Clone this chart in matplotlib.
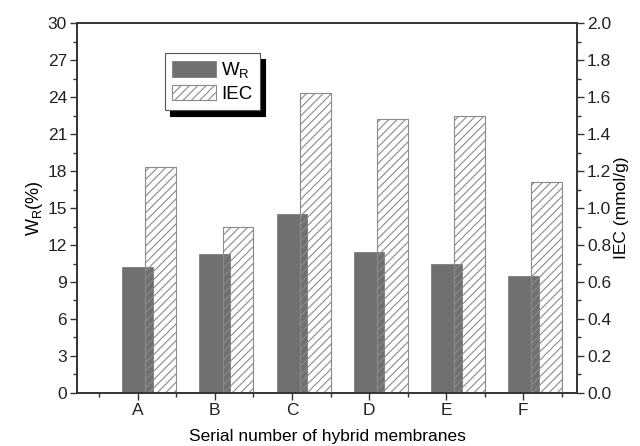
import matplotlib.pyplot as plt
import numpy as np
from matplotlib.ticker import MultipleLocator

plt.rcParams['font.family'] = ['Liberation Sans', 'DejaVu Sans']
plt.rcParams['hatch.color'] = '#555555'
plt.rcParams['hatch.linewidth'] = 0.8

categories = ['A', 'B', 'C', 'D', 'E', 'F']
wr = [10.2, 11.25, 14.55, 11.45, 10.45, 9.5]
iec = [1.22, 0.90, 1.62, 1.48, 1.50, 1.14]

x = np.arange(1, len(categories) + 1)

fig = plt.figure(figsize=(6.4, 4.46), dpi=100)
ax = fig.add_axes([0.120, 0.119, 0.782, 0.829])
ax2 = ax.twinx()

b1 = ax.bar(x, wr, width=0.4, color='#707070', edgecolor='#707070', linewidth=0.5)
b2 = ax2.bar(x + 0.3, iec, width=0.4, facecolor='none', edgecolor='#8a8a8a', hatch='////', linewidth=0.8)

ax.set_xlim(0.21, 6.7)
ax.set_ylim(0, 30)
ax2.set_ylim(0, 2.0)

ax.set_xticks(x)
ax.set_xticklabels(categories)
ax.set_xticks(np.arange(0.5, 7, 1.0), minor=True)
ax.yaxis.set_major_locator(MultipleLocator(3))
ax.yaxis.set_minor_locator(MultipleLocator(1.5))
ax2.yaxis.set_major_locator(MultipleLocator(0.2))
ax2.yaxis.set_minor_locator(MultipleLocator(0.1))
ax2.yaxis.set_major_formatter(plt.FormatStrFormatter('%.1f'))

for a in (ax, ax2):
    a.tick_params(which='major', direction='out', length=5, width=1.0, labelsize=12.5, colors='#333333', labelcolor='#222222', pad=2)
    a.tick_params(which='minor', direction='out', length=3, width=1.0, colors='#333333')
    for s in a.spines.values():
        s.set_linewidth(1.2)
        s.set_color('#333333')

ax.set_ylabel('W$_\\mathregular{R}$(%)', fontsize=13, labelpad=2)
ax2.set_ylabel('IEC (mmol/g)', fontsize=12.5, labelpad=2)
ax.set_xlabel('Serial number of hybrid membranes', fontsize=12.5, labelpad=8)

leg = ax2.legend([b1, b2], ['W$_\\mathregular{R}$', 'IEC'], loc='upper left',
                 bbox_to_anchor=(0.176, 0.919), fancybox=False, framealpha=1,
                 edgecolor='#555555', fontsize=13.5, handlelength=2.3, handleheight=0.9,
                 borderpad=0.4, labelspacing=0.2, handletextpad=0.3, borderaxespad=0,
                 shadow={'color': 'black', 'alpha': 1.0, 'ox': 4, 'oy': -4})
leg.get_frame().set_linewidth(0.8)

fig.savefig('out.png', dpi=100)
